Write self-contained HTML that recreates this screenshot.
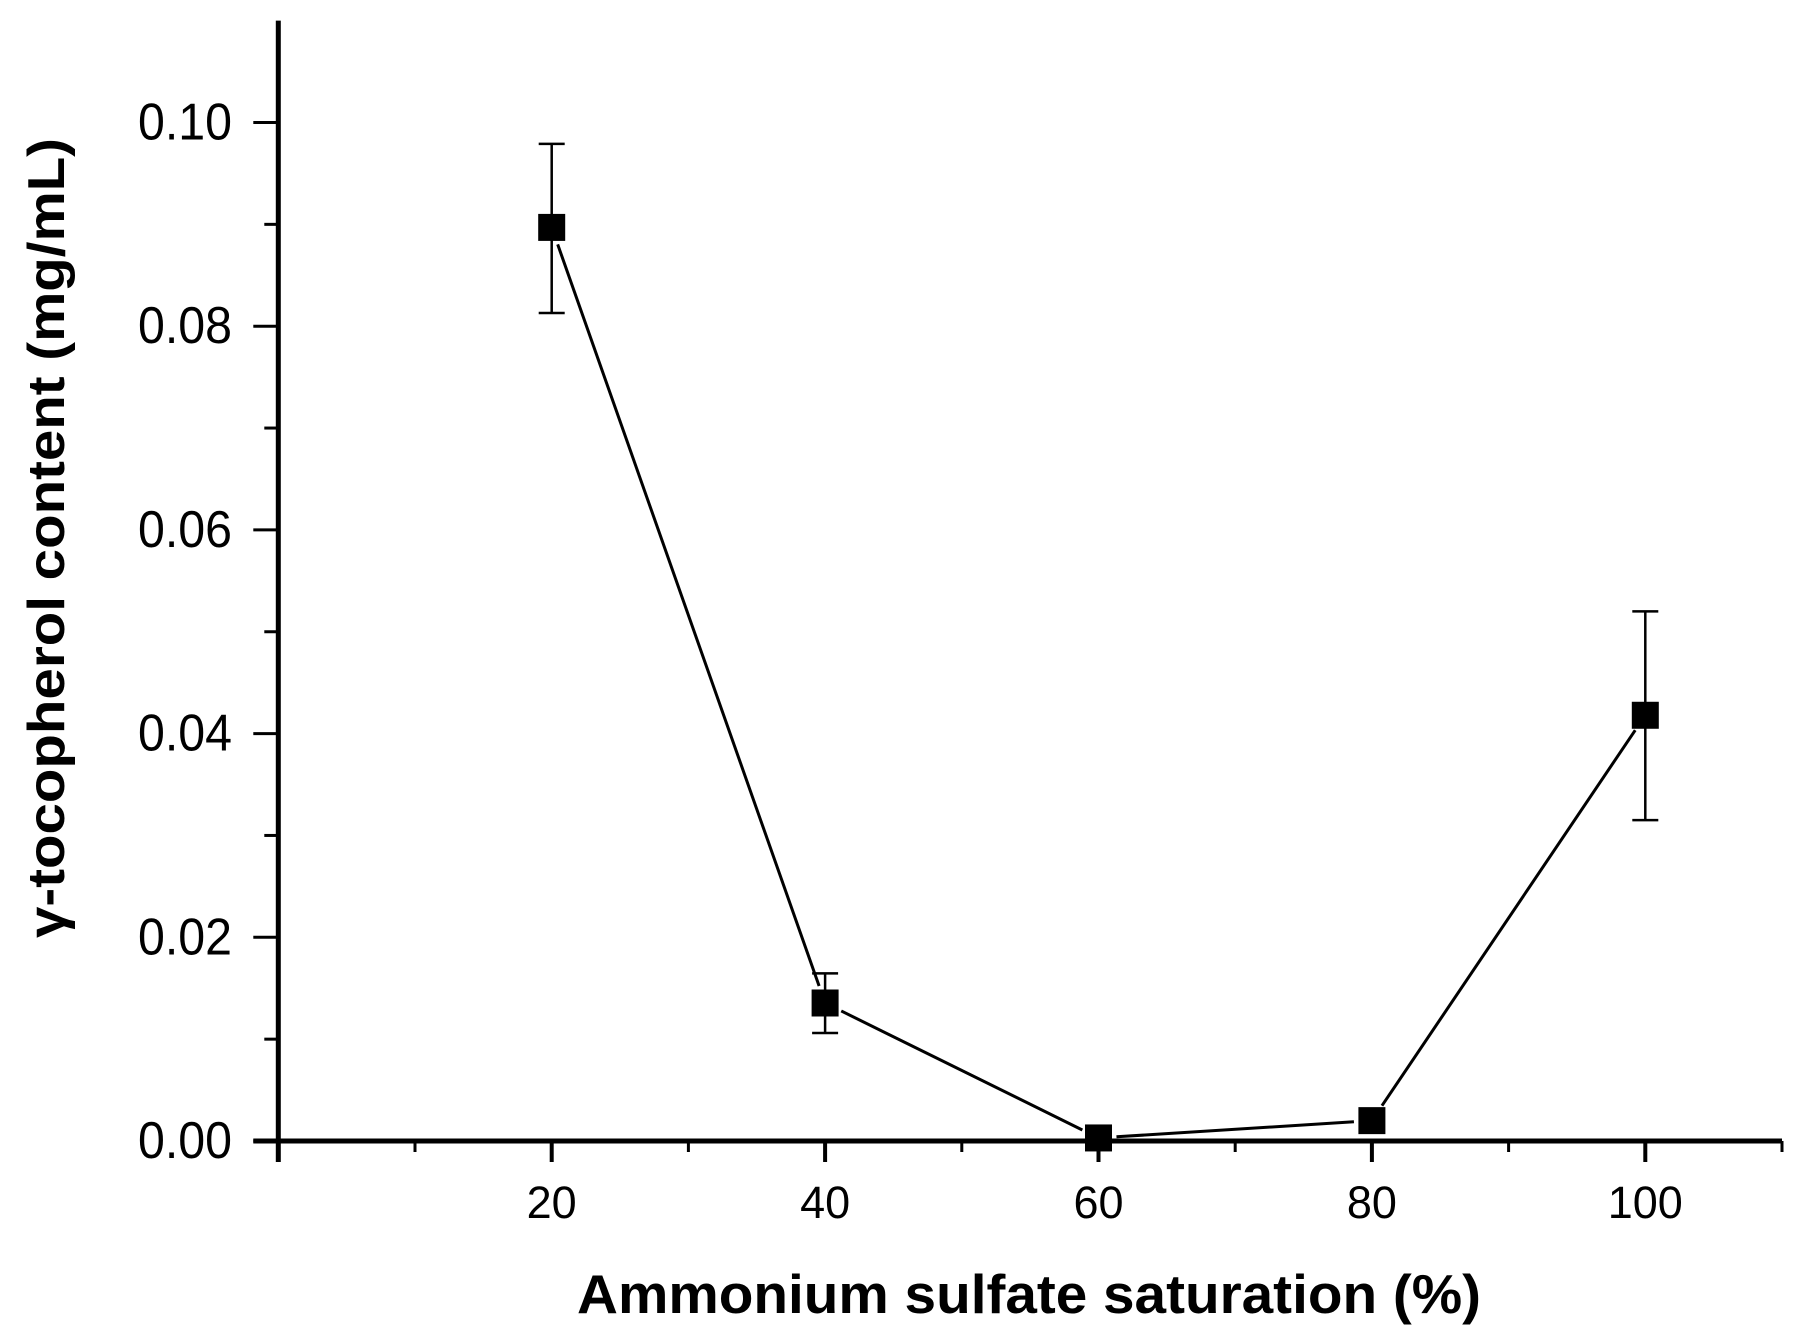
<!DOCTYPE html>
<html><head><meta charset="utf-8"><style>
html,body{margin:0;padding:0;background:#fff;}
svg{display:block;}
text{font-family:"Liberation Sans",Arial,sans-serif;fill:#000;}
</style></head><body>
<svg id="chart" width="1804" height="1340" viewBox="0 0 1804 1340" xmlns="http://www.w3.org/2000/svg">
<g id="axes"></g>
<g id="series"></g>
<text x="577" y="1313" font-size="55" font-weight="bold" textLength="904" lengthAdjust="spacingAndGlyphs">Ammonium sulfate saturation (%)</text>
<text transform="translate(64,538) rotate(-90)" text-anchor="middle" font-size="52" font-weight="bold" textLength="800" lengthAdjust="spacingAndGlyphs">γ-tocopherol content (mg/mL)</text>
</svg>
<script>
const categories = [20, 40, 60, 80, 100];
const values = [0.0897, 0.01355, 0.0003, 0.0020, 0.0418];
const errUpper = [0.0979, 0.01646, 0.0003, 0.0020, 0.0520];
const errLower = [0.0813, 0.0106, 0.0003, 0.0020, 0.0315];
const yTickLabels = ["0.00", "0.02", "0.04", "0.06", "0.08", "0.10"];
const yTickValues = [0, 0.02, 0.04, 0.06, 0.08, 0.10];
const xTickLabels = ["20", "40", "60", "80", "100"];
const xTickValues = [20, 40, 60, 80, 100];

const NS = "http://www.w3.org/2000/svg";
const X0 = 278.3, XPU = 13.67;
const Y0 = 1141, YPU = 10185;
function xs(v){ return X0 + v * XPU; }
function ys(v){ return Y0 - v * YPU; }
function mk(tag, attrs, parent){
  const e = document.createElementNS(NS, tag);
  for (const k in attrs) e.setAttribute(k, attrs[k]);
  parent.appendChild(e);
  return e;
}
const axes = document.getElementById('axes');
const series = document.getElementById('series');

let l = mk('line', {x1: xs(0), y1: ys(0.11), x2: xs(0), y2: Y0 + 21, stroke: '#000', 'stroke-width': 5}, axes);


l = mk('line', {x1: xs(0) - 25, y1: Y0, x2: xs(110), y2: Y0, stroke: '#000', 'stroke-width': 5}, axes);



for (let v = 0.01; v < 0.11; v += 0.02) {
  const t = mk('line', {x1: xs(0) - 14, y1: ys(v), x2: xs(0), y2: ys(v), stroke: '#000', 'stroke-width': 3}, axes);
  
  
}
yTickValues.forEach((v, i) => {
  const t = mk('line', {x1: xs(0) - 25, y1: ys(v), x2: xs(0), y2: ys(v), stroke: '#000', 'stroke-width': 3}, axes);
  
  
  const tx = mk('text', {x: 232, y: ys(v) + 17, 'text-anchor': 'end', 'font-size': 52, textLength: 94, lengthAdjust: 'spacingAndGlyphs'}, axes);
  tx.textContent = yTickLabels[i];
  
  
});

for (let v = 10; v <= 110; v += 20) {
  const t = mk('line', {x1: xs(v), y1: Y0, x2: xs(v), y2: Y0 + 11, stroke: '#000', 'stroke-width': 3}, axes);
  
  
}
xTickValues.forEach((v, i) => {
  const t = mk('line', {x1: xs(v), y1: Y0, x2: xs(v), y2: Y0 + 21, stroke: '#000', 'stroke-width': 4}, axes);
  
  
  const tx = mk('text', {x: xs(v), y: 1218, 'text-anchor': 'middle', 'font-size': 45}, axes);
  tx.textContent = xTickLabels[i];
  
  
});

for (let i = 0; i < categories.length - 1; i++) {
  const ax = xs(categories[i]), ay = ys(values[i]);
  const bx = xs(categories[i+1]), by = ys(values[i+1]);
  const dx = bx - ax, dy = by - ay, d = Math.hypot(dx, dy);
  const g = 18;
  const s = mk('line', {x1: ax + dx/d*g, y1: ay + dy/d*g, x2: bx - dx/d*g, y2: by - dy/d*g, stroke: '#000', 'stroke-width': 3}, series);
  
  
}

categories.forEach((c, i) => {
  const x = xs(c);
  if (errUpper[i] - errLower[i] > 0.001) {
    const e = mk('path', {d: `M${x},${ys(errUpper[i])}V${ys(errLower[i])}M${x-13},${ys(errUpper[i])}H${x+13}M${x-13},${ys(errLower[i])}H${x+13}`, stroke: '#000', 'stroke-width': 2.5, fill: 'none'}, series);
    
    
  }
  const m = mk('rect', {x: x - 13.5, y: ys(values[i]) - 13.5, width: 27, height: 27, fill: '#000'}, series);
  
  
});
</script>
</body></html>
